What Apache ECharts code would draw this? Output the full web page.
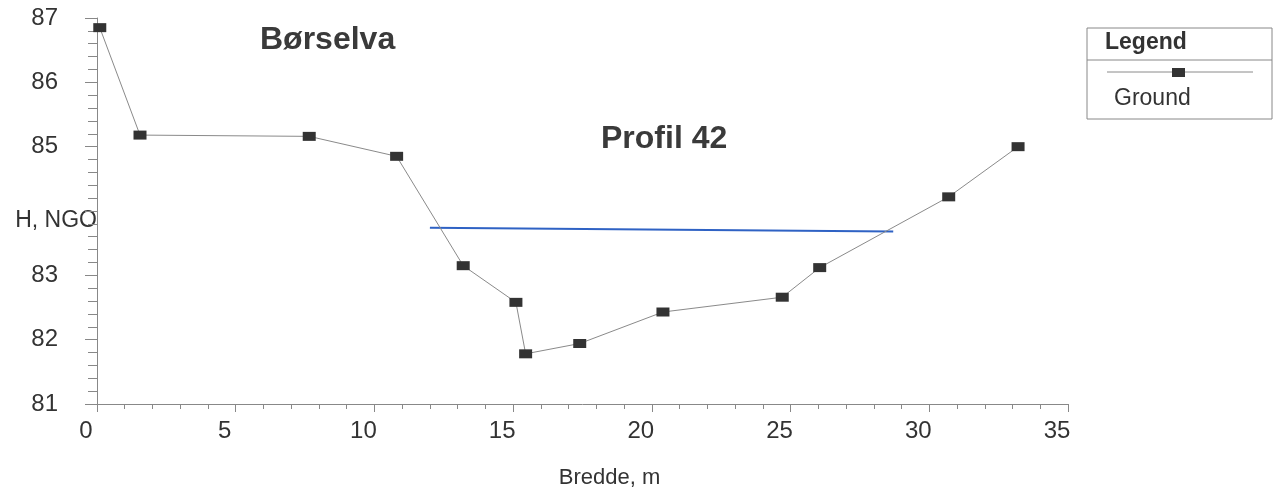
<!DOCTYPE html>
<html>
<head>
<meta charset="utf-8">
<script src="https://cdn.jsdelivr.net/npm/echarts@6/dist/echarts.min.js"></script>
<style>
  html, body { margin: 0; padding: 0; background: #fff; }
  #main { width: 1280px; height: 494px; }
</style>
</head>
<body>
<div id="main"></div>
<script>
// Bredde (m) and height (H, NGO) of the ground profile
var bredde = [0.1, 1.55, 7.65, 10.8, 13.2, 15.1, 15.45, 17.4, 20.4, 24.7, 26.05, 30.7, 33.2];
var hoyde  = [86.85, 85.18, 85.16, 84.85, 83.15, 82.58, 81.78, 81.94, 82.43, 82.66, 83.12, 84.22, 85.0];
// water level line
var vannX = [12.0, 28.7];
var vannY = [83.74, 83.68];
var xTicks = [0, 5, 10, 15, 20, 25, 30, 35];
var yTicks = [81, 82, 83, 84, 85, 86, 87];

var font = '"Liberation Sans", Arial, Helvetica, sans-serif';
var myChart = echarts.init(document.getElementById('main'));

var groundData = bredde.map(function (x, i) { return [x, hoyde[i]]; });
var waterData = vannX.map(function (x, i) { return [x, vannY[i]]; });

var option = {
    backgroundColor: '#ffffff',
    animation: false,
    textStyle: { fontFamily: font },
    title: [
        { text: 'Børselva', left: 255, top: 19,
          textStyle: { fontFamily: font, fontSize: 32, fontWeight: 'bold', color: '#3a3a3a' } },
        { text: 'Profil 42', left: 596, top: 118,
          textStyle: { fontFamily: font, fontSize: 32, fontWeight: 'bold', color: '#3a3a3a' } }
    ],
    grid: { left: 97, right: 212, top: 18, bottom: 90, containLabel: false, outerBoundsMode: 'none' },
    xAxis: {
        type: 'value',
        min: xTicks[0],
        max: xTicks[xTicks.length - 1],
        interval: 5,
        name: 'Bredde, m',
        nameLocation: 'middle',
        nameGap: 63,
        nameTextStyle: { fontFamily: font, fontSize: 22, color: '#333', padding: [0, 0, 0, 54] },
        axisLine: { lineStyle: { color: '#888', width: 1 } },
        axisTick: { show: true, length: 8, lineStyle: { color: '#888' } },
        minorTick: { show: true, splitNumber: 5, length: 5, lineStyle: { color: '#888' } },
        splitLine: { show: false },
        axisLabel: { fontFamily: font, fontSize: 24, color: '#333', margin: 15, padding: [0, 22, 0, 0] }
    },
    yAxis: {
        type: 'value',
        min: yTicks[0],
        max: yTicks[yTicks.length - 1],
        interval: 1,
        axisLine: { show: true, lineStyle: { color: '#888', width: 1 } },
        axisTick: { show: true, length: 12, lineStyle: { color: '#888' } },
        minorTick: { show: true, splitNumber: 5, length: 9, lineStyle: { color: '#888' } },
        splitLine: { show: false },
        axisLabel: {
            fontFamily: font, fontSize: 24, color: '#333', margin: 39,
            formatter: function (v) { return v === 84 ? '' : v; }
        }
    },
    series: [
        {
            name: 'Ground',
            type: 'line',
            data: groundData,
            symbol: 'rect',
            symbolSize: [13, 9],
            itemStyle: { color: '#333' },
            lineStyle: { color: '#8a8a8a', width: 1 },
            z: 3
        },
        {
            name: 'Vann',
            type: 'line',
            data: waterData,
            symbol: 'none',
            lineStyle: { color: '#2f62c4', width: 2 },
            z: 2
        }
    ],
    graphic: [
        // y axis title, sits where the 84 label would be
        { type: 'text', right: 1280 - 97, top: 209,
          style: { text: 'H, NGO', font: '23px ' + font, fill: '#333' } },
        { type: 'rect', shape: { x: 1087, y: 28, width: 185, height: 91 },
          style: { fill: 'none', stroke: '#888', lineWidth: 1 } },
        { type: 'line', shape: { x1: 1087, y1: 60, x2: 1272, y2: 60 },
          style: { stroke: '#888', lineWidth: 1 } },
        { type: 'text', left: 1105, top: 31,
          style: { text: 'Legend', font: 'bold 23px ' + font, fill: '#333' } },
        { type: 'line', shape: { x1: 1107, y1: 72, x2: 1253, y2: 72 },
          style: { stroke: '#8a8a8a', lineWidth: 1 } },
        { type: 'rect', shape: { x: 1172, y: 68, width: 13, height: 9 },
          style: { fill: '#333' } },
        { type: 'text', left: 1114, top: 87,
          style: { text: 'Ground', font: '23px ' + font, fill: '#333' } }
    ]
};
myChart.setOption(option);
</script>
</body>
</html>
